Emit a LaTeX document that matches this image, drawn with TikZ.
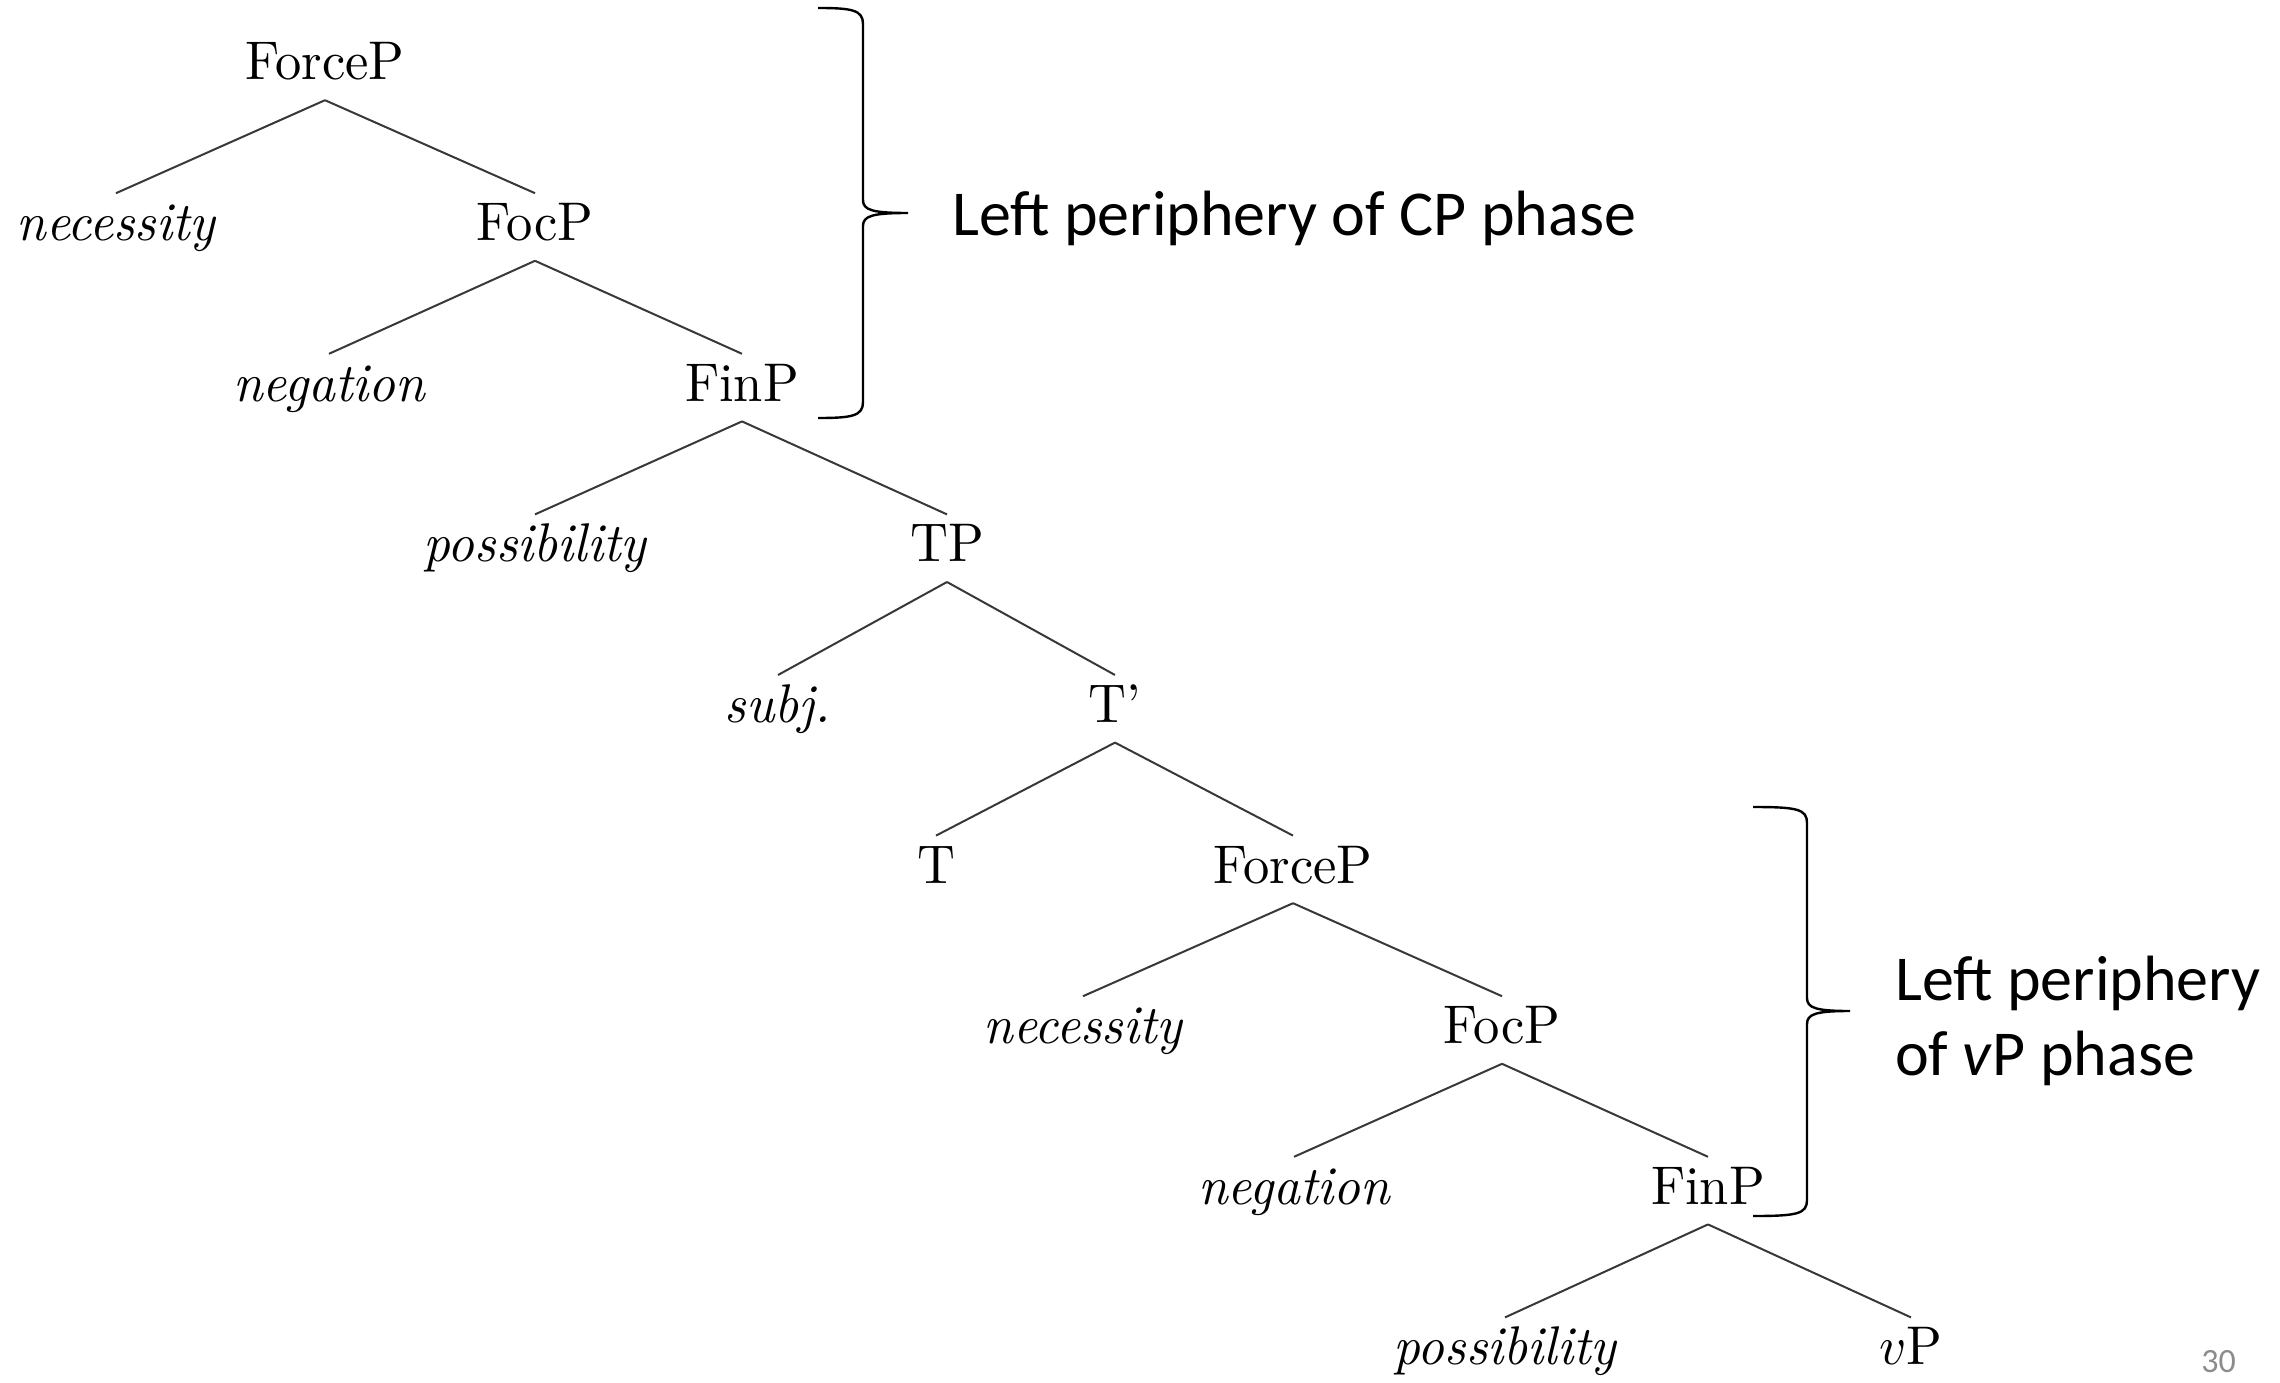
\documentclass[tikz,border=0pt]{standalone}
\usepackage{fontspec}
\usepackage{graphicx}
\newfontfamily\calibri{Carlito}
% tree labels: 10pt Latin Modern blown up (a little taller than wide)
\newcommand\tx[1]{\scalebox{5.25}[5.45]{#1}}

\begin{document}
\begin{tikzpicture}[x=1pt,y=-1pt,
  syn/.style={anchor=base, inner xsep=0pt, inner ysep=10pt, text height=37.2pt, text depth=10pt},
  branch/.style={draw=black!78, line width=2pt},
  brace/.style={draw=black, line width=2.4pt},
  note/.style={anchor=base west, inner sep=0pt, font=\calibri\fontsize{64}{76}\selectfont},
  pagenum/.style={anchor=base east, inner sep=0pt, text=black!45, font=\calibri\fontsize{34}{40}\selectfont}]
\useasboundingbox (0,0) rectangle (2280,1383);

% upper left periphery
\node[syn] (force1) at (325,80)     {\tx{ForceP}};
\node[syn] (nec1)   at (116,240.6)  {\tx{\itshape necessity}};
\node[syn] (foc1)   at (535,240.6)  {\tx{FocP}};
\node[syn] (neg1)   at (329,401.2)  {\tx{\itshape negation}};
\node[syn] (fin1)   at (742,401.2)  {\tx{FinP}};
\node[syn] (pos1)   at (535,561.8)  {\tx{\itshape possibility}};
\node[syn] (tp)     at (947,561.8)  {\tx{TP}};
% TP layer
\node[syn] (subj)   at (778,722.4)  {\tx{\itshape subj.}};
\node[syn] (tbar)   at (1115,722.4) {\tx{T’}};
\node[syn] (t)      at (936,883)    {\tx{T}};
% lower left periphery
\node[syn] (force2) at (1293,883)   {\tx{ForceP}};
\node[syn] (nec2)   at (1083,1043.6) {\tx{\itshape necessity}};
\node[syn] (foc2)   at (1502,1043.6) {\tx{FocP}};
\node[syn] (neg2)   at (1294,1204.2) {\tx{\itshape negation}};
\node[syn] (fin2)   at (1708,1204.2) {\tx{FinP}};
\node[syn] (pos2)   at (1505,1364.8) {\tx{\itshape possibility}};
\node[syn] (vp)     at (1911,1364.8) {\tx{$v$P}};

% branches
\foreach \p/\c in {force1/nec1, force1/foc1, foc1/neg1, foc1/fin1,
                   fin1/pos1, fin1/tp, tp/subj, tp/tbar, tbar/t, tbar/force2,
                   force2/nec2, force2/foc2, foc2/neg2, foc2/fin2,
                   fin2/pos2, fin2/vp}
  \draw[branch] (\p.south) -- (\c.north);

% braces
\draw[brace] (818,8) .. controls (852,8) and (863,10) .. (863,24)
  -- (863,200) .. controls (863,210) and (872,213) .. (908,213)
  .. controls (872,213) and (863,216) .. (863,226)
  -- (863,402) .. controls (863,416) and (852,418) .. (818,418);
\draw[brace] (1753,807) .. controls (1797,807) and (1807,809) .. (1807,823)
  -- (1807,998) .. controls (1807,1008) and (1816,1011) .. (1850,1011)
  .. controls (1816,1011) and (1807,1014) .. (1807,1024)
  -- (1807,1200) .. controls (1807,1214) and (1797,1216) .. (1753,1216);

% annotations
\node[note] (cp)  at (952,236)   {Left periphery of CP phase};
\node[note] (vpa) at (1895,1000) {Left periphery};
\node[note] (vpb) at (1895,1075) {of \textit{v}P phase};
\node[pagenum] (num) at (2236,1372) {30};
\end{tikzpicture}
\end{document}
